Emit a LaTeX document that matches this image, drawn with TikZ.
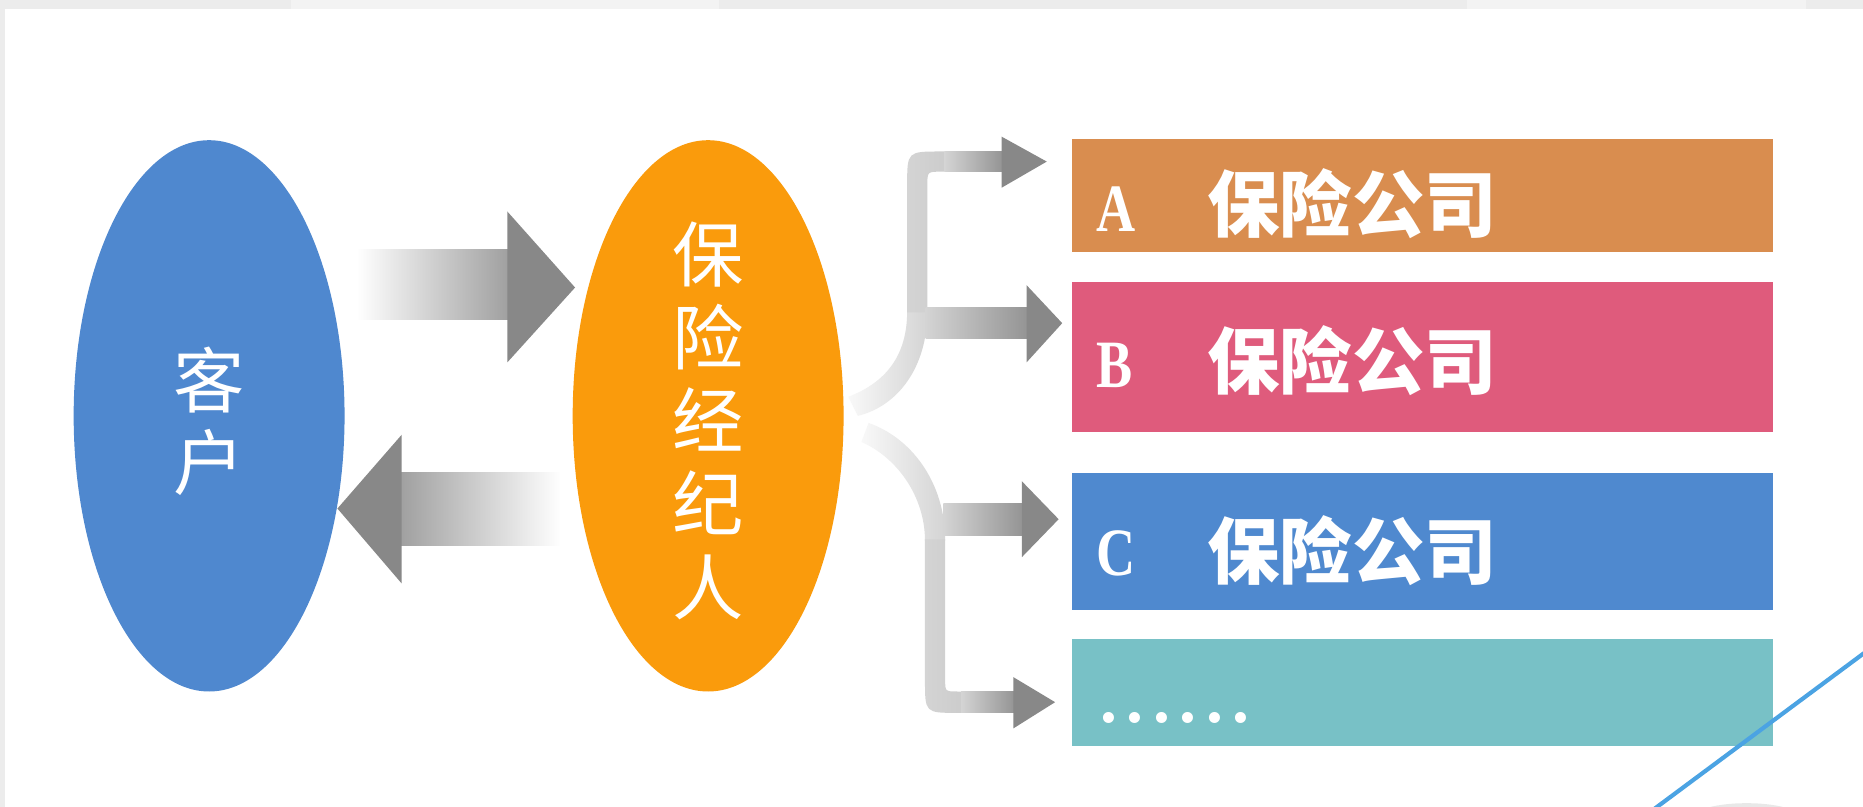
\documentclass[tikz,border=0pt]{standalone}
\usepackage{fontspec}
\setmainfont{Liberation Serif}
\newfontfamily\cjk{Noto Sans CJK SC}
\usetikzlibrary{shapes.geometric}
\definecolor{bggray}{RGB}{236,236,236}
\definecolor{bglight}{RGB}{243,243,243}
\definecolor{ellblue}{RGB}{79,136,207}
\definecolor{ellorange}{RGB}{250,155,12}
\definecolor{boxA}{RGB}{217,141,79}
\definecolor{boxB}{RGB}{223,91,124}
\definecolor{boxC}{RGB}{79,137,207}
\definecolor{boxD}{RGB}{120,193,198}
\definecolor{arrgray}{RGB}{136,136,136}
\definecolor{stemgray}{RGB}{212,212,212}
\definecolor{stemdark}{RGB}{204,204,204}
\definecolor{lineblue}{RGB}{75,163,227}
\begin{document}
\begin{tikzpicture}[x=1pt,y=-1pt,
  oval/.style={ellipse, minimum width=228pt, minimum height=464pt, inner sep=0pt},
  vtext/.style={text=white, align=center, inner sep=0pt, font=\cjk\fontsize{60}{69}\selectfont},
  cobox/.style={rectangle, minimum width=590pt, anchor=north west, inner sep=0pt},
  letter/.style={text=white, font=\bfseries\fontsize{57}{60}\selectfont, anchor=base west, inner sep=0pt, xscale=0.8, transform shape},
  dots/.style={text=white, font=\bfseries\fontsize{57}{60}\selectfont, anchor=base west, inner sep=0pt},
  coname/.style={text=white, font=\cjk\bfseries\fontsize{61}{64}\selectfont, anchor=base west, inner sep=0pt},
  headfill/.style={fill=arrgray},
  stemfade/.style={left color=gray!5, middle color=stemgray, right color=stemgray},
  stemv/.style={left color=stemgray, right color=stemdark},
  bodyshade/.style={left color=stemgray, right color=arrgray!90},
]
\useasboundingbox (0,0) rectangle (1568,679);
\clip (0,0) rectangle (1568,679);
% background
\fill[bggray] (0,0) rectangle (1568,679);
\fill[bglight] (245,0) rectangle (605,8);
\fill[bglight] (1235,0) rectangle (1520,8);
\fill[white] (4.5,7.6) rectangle (1568,679);

% ellipses
\node[oval, fill=ellblue] (kehu) at (176,350) {};
\node[oval, fill=ellorange] (broker) at (596,350) {};
\node[vtext] (kehutxt) at ([yshift=-5pt]kehu.center) {客\\户};
\node[vtext, font=\cjk\fontsize{60}{70}\selectfont] (brokertxt) at ([yshift=-4pt]broker.center) {保\\险\\经\\纪\\人};

% company boxes
\node[cobox, fill=boxA, minimum height=95pt] (boxa) at (902,117) {};
\node[cobox, fill=boxB, minimum height=126pt] (boxb) at (902,237) {};
\node[cobox, fill=boxC, minimum height=115pt] (boxc) at (902,398) {};
\node[cobox, fill=boxD, minimum height=90pt] (boxd) at (902,538) {};

\node[letter] (la) at (923,195) {A};
\node[coname] (na) at (1016,195) {保险公司};
\node[letter] (lb) at (923,326) {B};
\node[coname] (nb) at (1016,327) {保险公司};
\node[letter] (lc) at (923,484) {C};
\node[coname] (nc) at (1016,487) {保险公司};
\node[dots] (ld) at (926,608) {.\kern8pt.\kern8pt.\kern8pt.\kern8pt.\kern8pt.};

% big exchange arrows
\coordinate (toTip) at (484,242);
\coordinate (backTip) at (284,428);
\shade[left color=white, right color=arrgray!80] (300,210) rectangle (428,269);
\fill[headfill] (427,178) -- (toTip) -- (427,305) -- cycle;
\shade[left color=arrgray!80, right color=white] (337,398) rectangle (472,459);
\fill[headfill] (338,366) -- (backTip) -- (338,491) -- cycle;

% upper branch stem
\shade[stemfade] (714,334) .. controls (745,322) and (763.5,300) .. (763.5,262)
   -- (780.5,262) .. controls (780.5,310) and (755,342) .. (722,350) -- cycle;
\shade[stemv] (763.5,263) -- (763.5,156) .. controls (763.5,127.5) .. (792,127.5)
   -- (796,127.5) -- (796,144.5) -- (792,144.5) .. controls (780.5,144.5) .. (780.5,156)
   -- (780.5,263) -- cycle;
% lower branch stem
\shade[stemfade] (731,356) .. controls (766,368) and (795.5,405) .. (795.5,455)
   -- (778.5,455) .. controls (778.5,418) and (755,385) .. (725,372) -- cycle;
\shade[stemv] (778.5,454) -- (778.5,572) .. controls (778.5,600) .. (806,600)
   -- (810,600) -- (810,582) -- (806,582) .. controls (795.5,582) .. (795.5,572)
   -- (795.5,454) -- cycle;

% branch arrow bodies and heads
\shade[bodyshade] (795,127.5) rectangle (844,144.5);
\fill[headfill] (843,115) -- (881,136) -- (843,158) -- cycle;
\shade[bodyshade] (779,259) rectangle (865,285);
\fill[headfill] (864,240) -- (894,272) -- (864,305) -- cycle;
\shade[bodyshade] (794,424) rectangle (861,451);
\fill[headfill] (860,405) -- (891,437) -- (860,469) -- cycle;
\shade[bodyshade] (809,582) rectangle (854,600);
\fill[headfill] (853,570) -- (888,591) -- (853,613) -- cycle;

% decorative blue line
\fill[gray!18] (1470,688) ellipse (45pt and 12pt);
\draw[lineblue, line width=3.5pt] (1590,534) -- (1380,690);
\end{tikzpicture}
\end{document}
